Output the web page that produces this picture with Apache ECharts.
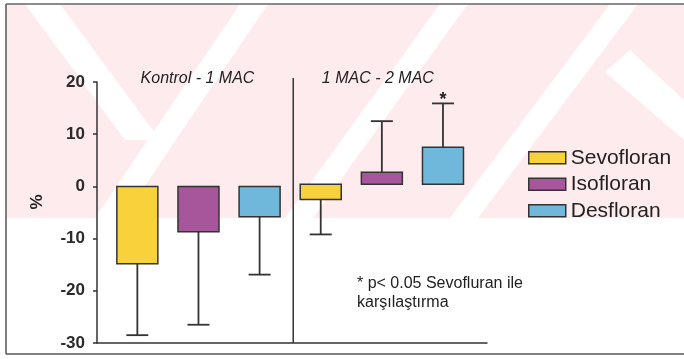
<!DOCTYPE html>
<html>
<head>
<meta charset="utf-8">
<script src="https://cdn.jsdelivr.net/npm/echarts@6/dist/echarts.min.js"></script>
<style>
  html, body { margin: 0; padding: 0; background: #fff; }
  #chart { width: 684px; height: 359px; }
</style>
</head>
<body>
<div id="chart"></div>
<script>
// Groups (comparison periods) and anaesthetic agents
const groups = ['Kontrol - 1 MAC', '1 MAC - 2 MAC'];
const agents = ['Sevofloran', 'Isofloran', 'Desfloran'];

// Per-group bar baseline (%)
const barBase = [0, 0.4];

// Mean change (%) per group
const sevoMean = [-14.8, -2.5];
const isoMean = [-8.7, 2.7];
const desMean = [-5.8, 7.5];

// Error-bar end (%) per group
const sevoWhisker = [-28.5, -9.2];
const isoWhisker = [-26.5, 12.5];
const desWhisker = [-16.9, 15.9];

// Significance mark: [agent index, group index]
const starMarks = [[2, 1]];

// Value axis ticks
const yTicks = [-30, -20, -10, 0, 10, 20];

const colors = ['#F8D23A', '#A8569B', '#70B8DB'];
const means = [sevoMean, isoMean, desMean];
const whiskers = [sevoWhisker, isoWhisker, desWhisker];
const FONT = 'Arial, "Liberation Sans", sans-serif';

const chart = echarts.init(document.getElementById('chart'));

function slotOf(agentIdx, groupIdx) { return groupIdx * 3 + agentIdx; }

function renderBar(params, api) {
  const x = api.value(0);
  const base = api.value(1);
  const mean = api.value(2);
  const wh = api.value(3);
  const pB = api.coord([x, base]);
  const pM = api.coord([x, mean]);
  const pW = api.coord([x, wh]);
  const halfW = 20.5, capHalf = 11;
  const stroke = '#333';
  return {
    type: 'group',
    children: [
      { type: 'line', shape: { x1: pM[0], y1: pM[1], x2: pW[0], y2: pW[1] },
        style: { stroke: stroke, lineWidth: 1.8 } },
      { type: 'line', shape: { x1: pW[0] - capHalf, y1: pW[1], x2: pW[0] + capHalf, y2: pW[1] },
        style: { stroke: stroke, lineWidth: 1.8 } },
      { type: 'rect',
        shape: { x: pB[0] - halfW, y: Math.min(pB[1], pM[1]), width: halfW * 2, height: Math.abs(pM[1] - pB[1]) },
        style: { fill: api.visual('color'), stroke: stroke, lineWidth: 1.5 } }
    ]
  };
}

const series = agents.map((name, a) => ({
  name: name,
  type: 'custom',
  renderItem: renderBar,
  itemStyle: { color: colors[a] },
  encode: { x: 0, y: [1, 2, 3] },
  data: groups.map((g, gi) => [slotOf(a, gi), barBase[gi], means[a][gi], whiskers[a][gi]]),
  z: 5
}));

// Light scanned-page watermark bands behind the plot
const pinkTop = 4, pinkBottom = 218;
function band(xBottom, xTop, w) {
  return {
    type: 'polygon', silent: true, z: -9,
    shape: { points: [[xBottom, pinkBottom], [xBottom + w, pinkBottom], [xTop + w, pinkTop], [xTop, pinkTop]] },
    style: { fill: '#ffffff' }
  };
}
const watermark = [
  { type: 'rect', silent: true, z: -10, shape: { x: 6, y: pinkTop, width: 678, height: pinkBottom - pinkTop }, style: { fill: '#FDEBEE' } },
  band(95, 240, 28),
  band(285, 440, 28),
  band(450, 610, 28),
  { type: 'polygon', silent: true, z: -9, shape: { points: [[25, 4], [60, 4], [160, 140], [125, 140]] }, style: { fill: '#ffffff' } },
  { type: 'polygon', silent: true, z: -9, shape: { points: [[630, 50], [684, 100], [684, 140], [605, 72]] }, style: { fill: '#ffffff' } }
];

const frame = [
  { type: 'line', silent: true, shape: { x1: 6, y1: 4, x2: 684, y2: 4 }, style: { stroke: '#666', lineWidth: 1.5 } },
  { type: 'line', silent: true, shape: { x1: 6, y1: 4, x2: 6, y2: 354 }, style: { stroke: '#555', lineWidth: 1.5 } },
  { type: 'line', silent: true, shape: { x1: 6, y1: 354, x2: 684, y2: 354 }, style: { stroke: '#555', lineWidth: 1.5 } }
];

chart.setOption({
  animation: false,
  grid: { left: 97, right: 197, top: 82, bottom: 16 },
  xAxis: {
    type: 'value', min: -0.66, max: 5.72,
    axisLine: { show: true, onZero: false, lineStyle: { color: '#333', width: 1.5 } },
    axisTick: { show: false }, axisLabel: { show: false }, splitLine: { show: false }
  },
  yAxis: {
    type: 'value', min: yTicks[0], max: yTicks[yTicks.length - 1], interval: 10,
    axisLine: { show: true, onZero: false, lineStyle: { color: '#333', width: 1.5 } },
    axisTick: { show: true, length: 4, lineStyle: { color: '#333', width: 1.5 } },
    axisLabel: { margin: 12, color: '#2a2a2a', fontSize: 17, fontWeight: 'bold', fontFamily: FONT },
    splitLine: { show: false }
  },
  legend: {
    orient: 'vertical', left: 528, top: 147, padding: 0,
    data: agents,
    icon: 'rect', itemWidth: 37, itemHeight: 12, itemGap: 5,
    itemStyle: { borderColor: '#333', borderWidth: 1.5 },
    textStyle: { fontSize: 21, fontFamily: FONT, color: '#222', lineHeight: 21.5 }
  },
  series: series,
  graphic: watermark.concat(frame)
});

// Annotations placed via the chart's own coordinate conversion
function px(x, y) { return chart.convertToPixel({ gridIndex: 0 }, [x, y]); }
const sepX = px(2.55, 0)[0];
const extra = [
  { type: 'line', silent: true, z: 4, shape: { x1: sepX, y1: 78, x2: sepX, y2: px(0, yTicks[0])[1] }, style: { stroke: '#333', lineWidth: 1.5 } },
  { type: 'text', silent: true, x: (px(0, 0)[0] + px(2, 0)[0]) / 2 - 1, y: 79,
    style: { text: groups[0], font: 'italic 16px ' + FONT, fill: '#222', textAlign: 'center', textVerticalAlign: 'middle' } },
  { type: 'text', silent: true, x: (px(3, 0)[0] + px(5, 0)[0]) / 2 - 4, y: 79,
    style: { text: groups[1], font: 'italic 16px ' + FONT, fill: '#222', textAlign: 'center', textVerticalAlign: 'middle' } },
  { type: 'text', silent: true, x: 37, y: 202, rotation: Math.PI / 2,
    style: { text: '%', font: 'bold 17px ' + FONT, fill: '#222', textAlign: 'center', textVerticalAlign: 'middle' } },
  { type: 'text', silent: true, x: 357, y: 293,
    style: { text: '* p< 0.05 Sevofluran ile\nkarşılaştırma', font: '16px ' + FONT, fill: '#222', lineHeight: 19, textAlign: 'left', textVerticalAlign: 'middle' } }
];
starMarks.forEach(([a, g]) => {
  const p = px(slotOf(a, g), whiskers[a][g]);
  extra.push({ type: 'text', silent: true, x: p[0], y: p[1] - 3,
    style: { text: '*', font: 'bold 18px ' + FONT, fill: '#222', textAlign: 'center', textVerticalAlign: 'middle' } });
});
chart.setOption({ graphic: watermark.concat(frame, extra) });
</script>
</body>
</html>
